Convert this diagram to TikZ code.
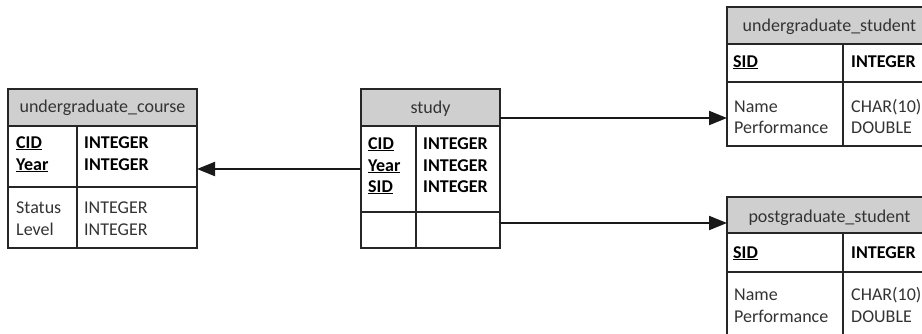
\documentclass[tikz,border=0pt]{standalone}
\usepackage{fontspec}
\setmainfont{Carlito}
\usetikzlibrary{arrows.meta}

% one table cell: \cellbox[style]{name}{x1}{y1}{x2}{y2}
\newcommand\cellbox[6][cell]{%
  \node[#1, minimum width={(#5)-(#3)}, minimum height={(#6)-(#4)}] (#2) at (#3,#4) {};}

\begin{document}
\begin{tikzpicture}[x=1pt,y=-1pt,
  cell/.style={draw=black!85, line width=1.4pt, anchor=north west, inner sep=0pt, outer sep=0pt},
  head/.style={cell, fill=black!19},
  txt/.style={anchor=base west, inner sep=0pt, text=black!80, font=\fontsize{18}{21}\selectfont},
  key/.style={txt, text=black, font=\fontsize{18}{21}\selectfont\bfseries},
  title/.style={anchor=base, inner sep=0pt, text=black!80, font=\fontsize{18}{21}\selectfont},
  link/.style={line width=2pt, draw=black!90, -{Triangle[length=18pt,width=14pt]}}
]
\useasboundingbox (0,0) rectangle (922,333);
\fill[white] (0,0) rectangle (922,333);
\begin{scope}
\clip (0,0) rectangle (922,333);

% undergraduate_course
\cellbox[head]{uc-h}{8}{89}{197}{126}
\cellbox{uc-k1}{8}{126}{77}{187}
\cellbox{uc-k2}{77}{126}{197}{187}
\cellbox{uc-a1}{8}{187}{77}{248}
\cellbox{uc-a2}{77}{187}{197}{248}
\node[title] (uc-t) at (102.5,112) {undergraduate\_course};
\node[key] (uc-n1) at (16,148) {\underline{CID}};
\node[key] (uc-n2) at (16,170) {\underline{Year}};
\node[key] (uc-d1) at (84,148) {INTEGER};
\node[key] (uc-d2) at (84,170) {INTEGER};
\node[txt] (uc-n3) at (16,213) {Status};
\node[txt] (uc-n4) at (16,235) {Level};
\node[txt] (uc-d3) at (84,213) {INTEGER};
\node[txt] (uc-d4) at (84,235) {INTEGER};

% study
\cellbox[head]{st-h}{361}{89}{500}{126}
\cellbox{st-k1}{361}{126}{416}{212}
\cellbox{st-k2}{416}{126}{500}{212}
\cellbox{st-a1}{361}{212}{416}{248}
\cellbox{st-a2}{416}{212}{500}{248}
\node[title] (st-t) at (430.5,113) {study};
\node[key] (st-n1) at (368,149) {\underline{CID}};
\node[key] (st-n2) at (368,171) {\underline{Year}};
\node[key] (st-n3) at (368,192) {\underline{SID}};
\node[key] (st-d1) at (423,149) {INTEGER};
\node[key] (st-d2) at (423,171) {INTEGER};
\node[key] (st-d3) at (423,192) {INTEGER};

% undergraduate_student
\cellbox[head]{us-h}{727}{7}{932}{44}
\cellbox{us-k1}{727}{44}{843}{82}
\cellbox{us-k2}{843}{44}{932}{82}
\cellbox{us-a1}{727}{82}{843}{146}
\cellbox{us-a2}{843}{82}{932}{146}
\node[title] (us-t) at (829.5,31) {undergraduate\_student};
\node[key] (us-n1) at (733,67) {\underline{SID}};
\node[key] (us-d1) at (851,67) {INTEGER};
\node[txt] (us-n2) at (734,112) {Name};
\node[txt] (us-n3) at (734,133) {Performance};
\node[txt] (us-d2) at (851,112) {CHAR(10)};
\node[txt] (us-d3) at (851,133) {DOUBLE};

% postgraduate_student
\cellbox[head]{ps-h}{727}{197}{932}{233}
\cellbox{ps-k1}{727}{233}{843}{272}
\cellbox{ps-k2}{843}{233}{932}{272}
\cellbox{ps-a1}{727}{272}{843}{345}
\cellbox{ps-a2}{843}{272}{932}{345}
\node[title] (ps-t) at (829.5,222) {postgraduate\_student};
\node[key] (ps-n1) at (733,258) {\underline{SID}};
\node[key] (ps-d1) at (851,258) {INTEGER};
\node[txt] (ps-n2) at (734,300) {Name};
\node[txt] (ps-n3) at (734,322) {Performance};
\node[txt] (ps-d2) at (851,300) {CHAR(10)};
\node[txt] (ps-d3) at (851,322) {DOUBLE};

% relationships
\coordinate (s1) at (361,169);
\coordinate (s2) at (500,118);
\coordinate (s3) at (500,223);
\draw[link] (s1) -- (s1 -| uc-k2.east);
\draw[link] (s2) -- (s2 -| us-a1.west);
\draw[link] (s3) -- (s3 -| ps-h.west);
\end{scope}
\end{tikzpicture}
\end{document}
